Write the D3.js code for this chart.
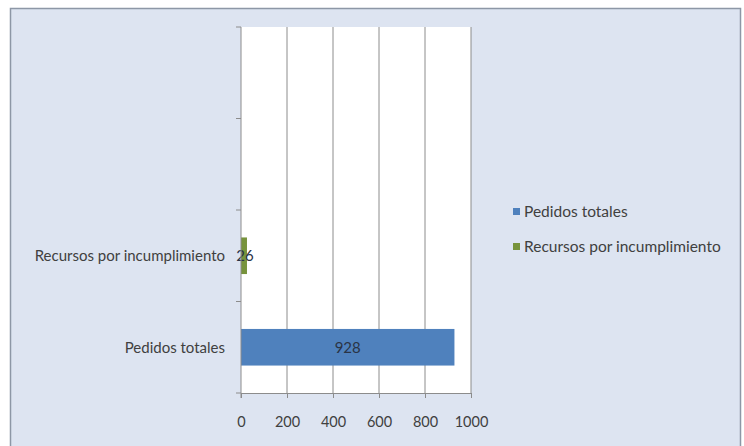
<!DOCTYPE html>
<html>
<head>
<meta charset="utf-8">
<script src="https://cdn.jsdelivr.net/npm/d3@7"></script>
<style>
  html, body { margin: 0; padding: 0; background: #ffffff; }
  svg { display: block; }
  text { font-family: Lato, "Open Sans", sans-serif; }
</style>
</head>
<body>
<svg id="chart" width="744" height="446"></svg>
<script>
// Categories from top to bottom; the two upper slots are left empty
const categories = ["", " ", "Recursos por incumplimiento", "Pedidos totales"];
const seriesNames = ["Pedidos totales", "Recursos por incumplimiento"];
const seriesValues = [928, 26];
const seriesColors = ["#4f81bd", "#77933c"];
const xTicks = [0, 200, 400, 600, 800, 1000];

const svg = d3.select("#chart");

// Outer chart frame
svg.append("rect")
  .attr("x", 10.5).attr("y", 8.5)
  .attr("width", 730).attr("height", 446)
  .attr("fill", "#dde4f1")
  .attr("stroke", "#8d97a6")
  .attr("stroke-width", 1.5);

const plot = { left: 241, right: 471, top: 27, bottom: 393 };

const x = d3.scaleLinear().domain([0, 1000]).range([plot.left, plot.right]);
const y = d3.scaleBand().domain(categories).range([plot.top, plot.bottom]).paddingInner(0).paddingOuter(0);

// Plot area
svg.append("rect")
  .attr("x", plot.left).attr("y", plot.top)
  .attr("width", plot.right - plot.left).attr("height", plot.bottom - plot.top)
  .attr("fill", "#ffffff");

// Vertical gridlines
svg.append("g")
  .selectAll("line")
  .data(xTicks.slice(1))
  .join("line")
  .attr("x1", d => x(d)).attr("x2", d => x(d))
  .attr("y1", plot.top).attr("y2", plot.bottom)
  .attr("stroke", "#8c8c8c").attr("stroke-width", 1);

// Bars: each series sits in the category with the same name
const barData = seriesNames.map((name, i) => ({ name, value: seriesValues[i], color: seriesColors[i] }));
const barH = y.bandwidth() * 0.4;

svg.append("g")
  .selectAll("rect")
  .data(barData)
  .join("rect")
  .attr("x", x(0))
  .attr("y", d => y(d.name) + (y.bandwidth() - barH) / 2)
  .attr("width", d => x(d.value) - x(0))
  .attr("height", barH)
  .attr("fill", d => d.color);

// Value labels centred on each bar
svg.append("g")
  .selectAll("text")
  .data(barData)
  .join("text")
  .attr("x", d => (x(0) + x(d.value)) / 2 + (d.value < 100 ? 1 : 0))
  .attr("y", d => y(d.name) + y.bandwidth() / 2)
  .attr("dy", "0.35em")
  .attr("text-anchor", "middle")
  .attr("font-size", 15)
  .attr("fill", "#2a3446")
  .text(d => d.value);

// X axis
const xAxis = svg.append("g")
  .attr("transform", `translate(0,${plot.bottom})`)
  .call(d3.axisBottom(x).tickValues(xTicks).tickSize(5).tickPadding(19).tickFormat(d3.format("d")));
xAxis.select(".domain").attr("stroke", "#8c8c8c");
xAxis.selectAll(".tick line").attr("stroke", "#8c8c8c");
xAxis.selectAll("text").attr("font-size", 14.5).attr("fill", "#404040")
  .attr("font-family", "Lato, sans-serif");

// Y axis with ticks at band boundaries
const yAxis = svg.append("g").attr("transform", `translate(${plot.left},0)`);
yAxis.append("line")
  .attr("x1", 0).attr("x2", 0)
  .attr("y1", plot.top).attr("y2", plot.bottom + 5)
  .attr("stroke", "#8c8c8c");
yAxis.selectAll(".bt")
  .data(categories.map(c => y(c)).concat([plot.bottom]))
  .join("line")
  .attr("class", "bt")
  .attr("x1", -5).attr("x2", 0)
  .attr("y1", d => d).attr("y2", d => d)
  .attr("stroke", "#8c8c8c");
yAxis.selectAll("text")
  .data(categories.filter(c => c.trim() !== ""))
  .join("text")
  .attr("x", -16)
  .attr("y", d => y(d) + y.bandwidth() / 2)
  .attr("dy", "0.35em")
  .attr("text-anchor", "end")
  .attr("font-size", 15)
  .attr("fill", "#404040")
  .text(d => d);

// Legend
const legend = svg.append("g").attr("transform", "translate(513,212)");
const li = legend.selectAll("g").data(barData).join("g")
  .attr("transform", (d, i) => `translate(0,${i * 35})`);
li.append("rect")
  .attr("x", 0).attr("y", -4).attr("width", 7).attr("height", 7)
  .attr("fill", d => d.color);
li.append("text")
  .attr("x", 11).attr("y", 0).attr("dy", "0.35em")
  .attr("font-size", 15.5).attr("fill", "#404040")
  .text(d => d.name);
</script>
</body>
</html>
